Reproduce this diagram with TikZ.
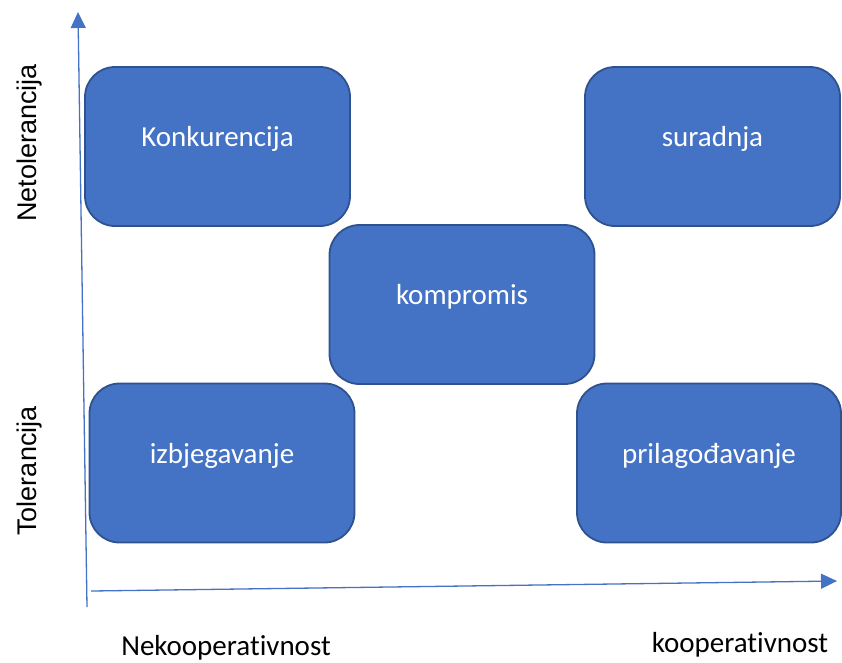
\documentclass[tikz,border=0pt]{standalone}
\usepackage{fontspec}
\setmainfont[Ligatures=NoCommon]{Carlito}
\newfontfamily\arialfont{Liberation Sans}
\usetikzlibrary{arrows.meta}
\definecolor{boxblue}{HTML}{4472C4}
\definecolor{boxedge}{HTML}{2F528F}

\begin{document}
\begin{tikzpicture}[x=1pt, y=-1pt,
    stil/.style={draw=boxedge, line width=1.8pt, fill=boxblue, rounded corners=30pt,
        minimum width=265pt, minimum height=159pt, text=white,
        text height=0pt, text depth=0pt, font=\fontsize{29}{34}\selectfont},
    os/.style={color=boxblue, line width=1.3pt, -{Triangle[width=15pt,length=16pt]}},
    oznaka/.style={font=\fontsize{29}{34}\selectfont},
    bocna/.style={font=\arialfont\fontsize{27}{32}\selectfont, rotate=90}]
                \useasboundingbox (0,0) rectangle (842,662);
                % kutije
                \node[stil] (konk) at (217.5,146.5) {Konkurencija};
                \node[stil, minimum width=255pt] (sur) at (712.5,146.5) {suradnja};
                \node[stil] (komp) at (462,304.5) {kompromis};
                \node[stil] (izbj) at (222,463) {izbjegavanje};
                \node[stil, minimum width=264pt] (pril) at (709,463) {prilagođavanje};
                % osi
                \coordinate (yo) at (87,607);
                \coordinate (yk) at (78,12);
                \coordinate (xo) at (91,591);
                \coordinate (xk) at (837,581);
                \draw[os] (yo) -- (yk);
                \draw[os] (xo) -- (xk);
                \node[bocna] (netol) at (30,143) {Netolerancija};
                \node[bocna] (tol) at (30,471) {Tolerancija};
                \node[oznaka] (nekoop) at (226,648) {Nekooperativnost};
                \node[oznaka] (koop) at (740,645) {kooperativnost};
            \end{tikzpicture}
\end{document}
